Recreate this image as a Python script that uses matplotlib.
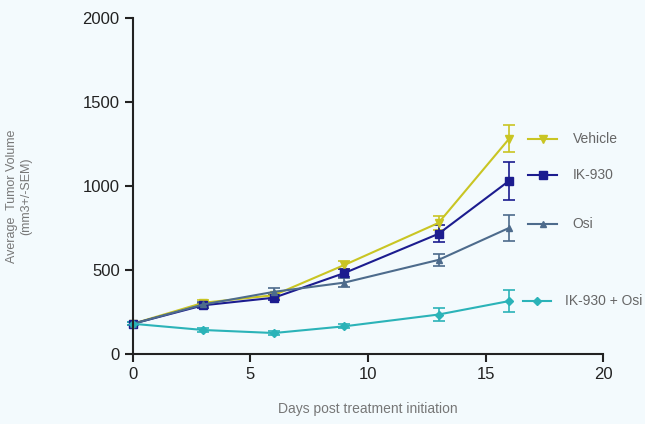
import matplotlib
matplotlib.use("Agg")
import matplotlib.pyplot as plt

plt.rcParams['font.family'] = ['Liberation Sans', 'DejaVu Sans']

# 데이터
days = [0, 3, 6, 9, 13, 16]
vehicle = [180, 305, 350, 530, 780, 1280]
vehicle_err = [10, 15, 15, 25, 40, 80]
ik930 = [180, 290, 335, 482, 715, 1030]
ik930_err = [10, 15, 15, 25, 50, 115]
osi = [180, 295, 370, 425, 560, 750]
osi_err = [10, 15, 20, 25, 35, 80]
combo = [180, 143, 125, 165, 235, 315]
combo_err = [10, 10, 10, 12, 40, 65]

labels = ['Vehicle', 'IK-930', 'Osi', 'IK-930 + Osi']
colors = ['#c9c523', '#1c1c8f', '#4d6b8c', '#2bb3b8']
markers = ['v', 's', '^', 'D']
marker_sizes = [6, 6, 5, 4]
# 범례 위치 (y, 데이터 단위)
legend_y = [1280, 1065, 775, 315]

fig = plt.figure(figsize=(6.45, 4.24), dpi=100)
fig.patch.set_facecolor('#f3fafd')
ax = fig.add_axes([0.206, 0.165, 0.729, 0.793])
ax.set_facecolor('#f3fafd')

series = [(vehicle, vehicle_err), (ik930, ik930_err), (osi, osi_err), (combo, combo_err)]
for (vals, errs), lab, c, m, ms, ly in zip(series, labels, colors, markers, marker_sizes, legend_y):
    ax.errorbar(days, vals, yerr=errs, color=c, marker=m, markersize=ms,
                linewidth=1.5, capsize=4, elinewidth=1.2, capthick=1.2, clip_on=False)
    # 범례: 선 + 마커 + 텍스트
    x0, x1, xt = (16.8, 18.05, 18.7) if lab != 'IK-930 + Osi' else (16.6, 17.8, 18.4)
    ax.plot([x0, x1], [ly, ly], color=c, linewidth=1.5, clip_on=False)
    ax.plot([(x0 + x1) / 2], [ly], color=c, marker=m, markersize=ms, clip_on=False)
    ax.text(xt, ly, lab, color='#666666', fontsize=10, va='center', ha='left', clip_on=False)

ax.set_xlim(0, 20)
ax.set_ylim(0, 2000)
ax.set_xticks([0, 5, 10, 15, 20])
ax.set_yticks([0, 500, 1000, 1500, 2000])
ax.spines['top'].set_visible(False)
ax.spines['right'].set_visible(False)
for s in ['left', 'bottom']:
    ax.spines[s].set_linewidth(1.5)
    ax.spines[s].set_color('#222222')
ax.tick_params(axis='both', direction='out', length=6, width=1.5, labelsize=12, colors='#222222')

ax.set_xlabel('Days post treatment initiation', fontsize=10, color='#777777', labelpad=14)
ax.set_ylabel('Average  Tumor Volume\n(mm3+/-SEM)', fontsize=9, color='#777777')
ax.yaxis.set_label_coords(-0.215, 0.47)

plt.savefig('out.png', dpi=100, facecolor=fig.get_facecolor())
